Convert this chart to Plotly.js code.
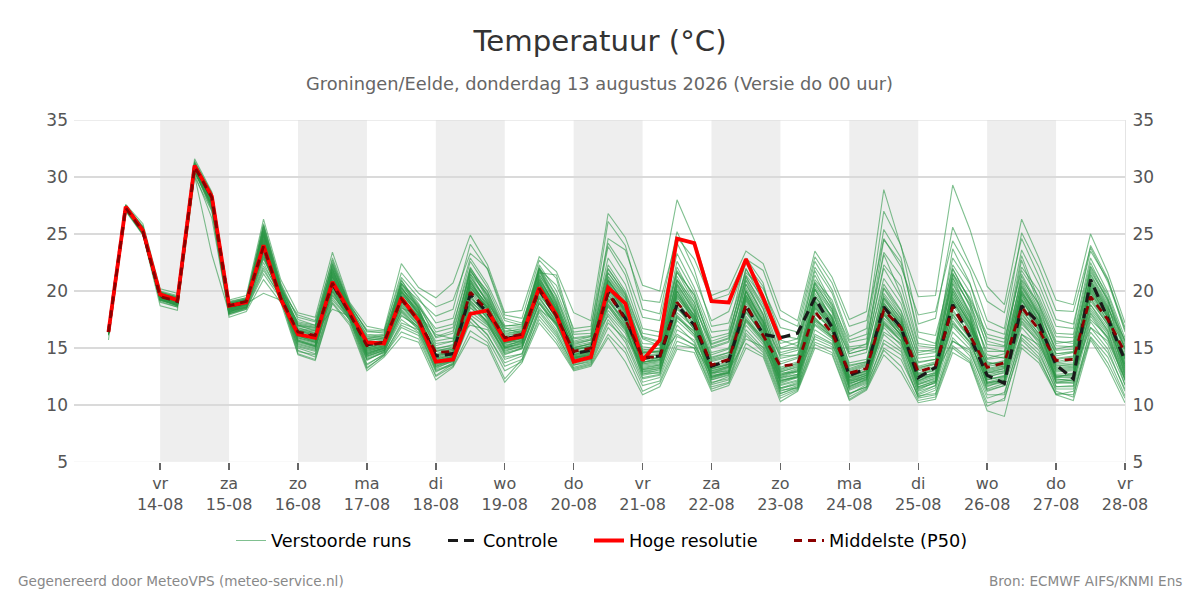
<!DOCTYPE html>
<html><head><meta charset="utf-8">
<script src="https://cdn.plot.ly/plotly-3.0.1.min.js"></script>
<style>html,body{margin:0;padding:0;background:#fff}#c{width:1200px;height:600px}</style>
</head><body><div id="c"></div>
<script>
const dayNames=["vr","za","zo","ma","di","wo","do","vr","za","zo","ma","di","wo","do","vr"];
const dayDates=["14-08","15-08","16-08","17-08","18-08","19-08","20-08","21-08","22-08","23-08","24-08","25-08","26-08","27-08","28-08"];
const tickIso=["2026-08-14","2026-08-15","2026-08-16","2026-08-17","2026-08-18","2026-08-19","2026-08-20","2026-08-21","2026-08-22","2026-08-23","2026-08-24","2026-08-25","2026-08-26","2026-08-27","2026-08-28"];
const bandStarts=["2026-08-14","2026-08-16","2026-08-18","2026-08-20","2026-08-22","2026-08-24","2026-08-26"];
const bandEnds=["2026-08-15","2026-08-17","2026-08-19","2026-08-21","2026-08-23","2026-08-25","2026-08-27"];
const hres=[16.4,27.4,25.3,19.7,19.2,31,28.3,18.7,19,24,19.3,16.2,15.9,20.8,18.2,15.5,15.4,19.4,17.4,13.8,14,18,18.3,15.7,16,20.3,17.9,13.8,14.2,20.3,18.9,13.9,15.7,24.6,24.2,19.1,19,22.8,19.4,15.7];
const control=[16.4,27.4,25.3,19.6,19.1,31,28.2,18.7,19,23.9,19.3,16.3,16,20.6,18.1,15.3,15.5,19.3,17.4,14.3,14.5,19.7,18.1,15.8,16.1,20.1,17.8,14.5,14.8,19.9,17.6,14.1,14.3,18.8,17,13.4,13.9,18.7,16.2,15.9,16.3,19.4,16.8,12.6,13.2,18.6,16.8,12.4,13.3,18.8,16,12.6,11.9,18.7,17.2,13.5,12.3,21,17.6,13.9];
const p50=[16.4,27.3,25.2,19.5,19.1,30.9,28.2,18.7,19.1,23.9,19.4,16.4,16.1,20.7,18,15.2,15.5,19.3,17.4,14.6,14.7,19.9,18.3,15.9,16.2,20.2,17.8,14.7,15,19.8,17.5,14.2,14.2,19,17.2,13.5,14,18.8,16.1,13.4,13.6,18.2,16.3,12.8,13.2,18.3,16.8,12.9,13.4,18.6,16.1,13.3,13.7,18.6,16.6,13.9,14,19.5,17.5,14.6];
const m01=[16.6,27.6,25.9,20.2,19.8,31.6,28.7,19.2,19.6,26.3,21,18.1,17.7,23.4,19,16.9,16.6,22.4,20.3,19.4,20.7,24.9,22.3,18.1,18.3,23,21.7,18.1,17.4,26.8,24.7,20.5,20,28,24.5,19.6,20.2,23.5,22.4,18.3,17.4,23.5,21.2,17.5,18.2,28.9,23.9,19.5,19.6,29.3,25.4,20.4,18.8,26.3,22.9,19.2,18.8,25,21.6,17.2];
const m02=[15.7,27,24.9,18.7,18.3,30,27,17.7,18.2,21,19,14.4,13.9,18.9,17,13,14.2,16,15.5,12.2,13.3,16,15.2,12,13.7,17.2,15.4,13,13.4,15.9,13.8,10.9,11.6,14.9,14.6,11.2,11.7,15,14.2,10.3,11.2,15,14.4,10.4,11.3,14.4,12.9,10.2,10.5,14.6,13.7,9.5,9,15,13.7,10.9,10.4,15.7,13.3,10.2];
const m03=[16.3,27.1,25,19,18.6,30.1,23.2,18.1,18.9,19.8,19.2,16.6,16.4,18.4,17.8,15.8,16.1,18.5,17.9,16.2,15.8,17,16.6,14,14.5,18.4,17.2,15,15.4,17.8,15.9,13.7,14.2,16.2,15.2,12.8,13,15.8,15.1,12.1,12.6,16,15.3,12.2,12.6,16.4,15.4,12.1,12.8,15.6,14.6,11.2,11.7,16.2,15.3,12.4,12.8,16.8,15.6,12.3];
const m04=[16.5,27.4,25.6,19.9,19.5,31.2,28.4,18.9,19.2,25.6,20.4,17.7,17.3,22.1,18.8,16.5,16.3,20.6,19.2,17.8,18.4,24.1,21.9,17.6,17.2,21.6,21.4,16.4,16.6,26.1,24,18.4,18,25.2,21.9,16.9,17.2,21.6,20.2,16.8,16.4,22.6,20.1,16,16.7,27,24,17.1,17.6,25.6,22.3,19.1,18.1,24.6,21.3,17.5,17.1,23.5,21,16.8];
const m05=[16.2,27.2,25.1,19.2,18.8,30.6,27.4,18.2,18.6,22.2,19.8,15,14.5,19.6,17.8,13.6,14.4,17.2,16.6,13,13.5,17.6,16.2,13.4,14,18.3,16.4,13.3,13.7,17.2,15.8,12.3,12.6,16.6,15.7,12,12.3,16.6,15,11.3,11.5,16.2,15.4,11,11.6,15.7,14.7,10.6,10.9,15.6,14.8,10.9,10.9,16.2,14.8,11.2,10.7,16.8,14.9,11.2];
const m06=[16.4,27.3,25.3,19.4,19,30.8,28,18.5,18.9,24.6,19.6,16.9,16.6,21.8,18.4,15.7,15.8,20.3,18.5,15.2,15.6,21.9,19.3,16.7,16.8,21.9,18.9,15.4,15.7,21.6,19.4,15.8,15.2,22.1,19.3,15.6,16.1,22,19,15.4,15.8,21.4,18.6,14.7,15.4,23.2,19.7,14.8,14.7,23.7,20.7,15.6,15.2,23.1,19.2,15.6,15.4,22.2,19.7,15.5];
const m07=[16.3,27.2,25,19.3,18.9,30.4,27.6,18,18.5,22.8,19.7,15.4,15,20,17.6,14,14.6,17.8,16.9,13.4,14,18.8,17.2,14.8,15.1,19.1,17.1,13.9,14.3,18.6,16.7,12.9,13,17.4,16,12.4,12.9,17.3,15.5,11.7,12.1,17,15.8,11.6,12.2,16.8,15.2,11.3,12,16.9,15.2,11.6,12.2,17.3,15.4,12,11.9,17.8,15.8,12.2];
const m08=[16.5,27.5,25.5,19.8,19.4,31.1,28.5,19,19.3,25.2,20.2,17.2,16.9,22.4,18.6,16.2,16.1,20.9,18.9,16.4,16.8,22.6,20.3,17,16.9,22.3,20,16.2,16.3,23.9,21.4,16.7,16.4,23.3,20.3,16.4,16.6,22.9,20.7,14.9,15.1,21,19.2,15.1,15.3,24.5,22.5,16.4,16.1,21.9,19.2,15.9,15.5,22.1,20,16.3,16.2,22.9,19.9,15.9];
const m09=[16.1,27.1,25,19.1,18.6,30.5,27.2,18,18.4,21.8,19.5,14.8,14.2,19.2,17.5,13.3,14.3,16.8,16.1,12.6,13.6,17.3,15.8,13,13.8,17.8,16,13.2,13.6,16.8,15,11.7,12.1,15.6,15,11.6,12,16.1,14.6,10.8,11.4,15.5,14.9,10.7,11.5,15,14,10.8,11,15.2,14,10.2,10.4,15.7,14.2,10.9,11.2,16,14.2,10.8];
const m10=[16.4,27.4,25.4,19.6,19.2,31,28.1,18.6,19,24.3,19.4,16.6,16.2,21.2,18.2,15.1,15.4,19.8,18,14.2,14.8,20.8,18.7,15.6,16,20.8,18.2,14.6,15,20.8,18.3,14.9,14.6,20.6,18.3,14.4,14.9,20,17.2,13.1,13.7,19.5,17.8,13.7,14,19.4,17.6,13.4,13.8,20,17.4,13.8,13.3,19.8,17.9,14.3,14.6,20.5,18.1,14.2];
const m11=[16.3,27.3,25.2,19.5,19.1,30.9,27.8,18.4,18.8,23.2,19.3,15.8,15.4,20.3,17.9,14.6,15,18.6,17.1,13.9,14.3,19.1,17.7,15.2,15.6,19.4,17.4,14.1,14.5,19.4,17.2,13.4,13.6,18.1,16.8,13,13.4,18.2,16.2,12.8,12.9,17.9,16.7,12.3,12.8,17.6,16.2,12.4,12.6,17.9,15.9,12.8,13,17.9,16.3,13.1,13.2,18.8,16.8,13.6];
const m12=[16.5,27.5,25.6,20,19.6,31.3,28.5,19.1,19.4,25.9,20.7,17.5,17,22.9,18.9,16.4,16.4,21.6,19.8,18.6,19.2,23.3,22,17.9,17.6,22.7,21.1,15.8,16,24.6,23.6,19.2,19,24.7,22.8,19.2,19.7,22.8,21.8,17.6,16.9,23,20.7,16.9,17.4,24.6,22.1,17.9,18.2,24.4,21.8,17.4,16.7,25.1,22.1,18.3,18.2,23.8,20.8,16.6];
const m13=[16.2,27.2,25,19.3,18.7,30.3,26.4,17.9,18.4,21.5,19.3,14.5,14,19,17.2,13.2,14.4,16.4,15.8,12.5,13.4,16.5,15.5,12.3,14,17.5,15.7,13.1,13.5,16.2,14.6,11.2,11.9,15.2,15,11.4,11.9,15.4,14.4,10.6,11.3,15.3,14.6,10.5,11.4,14.8,13.4,10.4,10.7,15,13.8,9.9,10.6,15.3,14,11,10.9,15.9,13.7,10.6];
const m14=[16.4,27.3,25.3,19.6,19.1,30.9,28,18.8,19.1,24.8,19.8,17,16.7,21.5,18.3,15.9,16,20,18.2,15.6,15.9,21,19.1,16.3,16.5,21.2,18.5,15,15.4,21,18.8,15.1,14.9,21,19,15,15.5,21,18.4,14.4,14.8,20.4,18.2,14.2,14.6,21.1,18.9,14.1,14.3,21.4,18.7,14.4,14.1,21.3,18.4,14.8,14.9,21.4,18.7,14.9];
const m15=[16.3,27.2,25.1,19.4,18.9,30.7,27.7,18.3,18.7,23.5,19.1,15.6,15.2,20.4,17.7,14.4,14.9,18.2,16.8,13.7,14.2,18.5,17.4,14.5,14.9,18.9,17,14.2,14.6,18.9,16.8,13,13.2,17.9,16.4,12.7,13.1,17.6,15.6,12.4,12.7,17.6,16.2,12.1,12.4,17.2,15.9,11.9,12.3,17.4,15.4,12.2,12.5,17.6,15.9,12.6,12.6,18.3,16.4,13];
const m16=[16.4,27.4,25.4,19.7,19.3,31.1,28.3,18.8,19.2,24.4,19.9,16.7,16.5,20.9,18.1,15.5,15.7,19.7,18.1,15,15.2,20.3,18.5,16.1,16.4,20.6,18.3,15.1,15.3,20.4,18.1,14.6,14.7,20,17.8,14.2,14.6,19.6,17.4,14.3,14.4,19.1,17.1,13.2,13.7,20.2,17.9,13.8,14,19.2,17,14.1,14.5,20,17.4,14.5,14.7,20.2,17.9,15.1];
const m17=[16.6,27.5,25.7,19.9,19.5,31.4,28.6,19,19.4,25.4,20.1,17.9,17.4,22.7,18.7,16.6,16.5,21.2,19.4,17.2,17.6,22.9,20.6,17.4,17,21.9,20.5,16.7,16.9,24.2,21.9,17.7,17.4,24.2,21.2,17.4,18.2,22.4,20.4,16.1,15.8,22.1,19.8,15.7,16.2,25.4,22.9,15.9,15.4,22.9,20.6,16.7,16.2,23.6,20.6,16.9,16.7,24,21.1,16.4];
const m18=[16.2,27.1,25,19.2,18.8,30.5,27.5,18.1,18.6,22.5,19.4,15.2,14.8,19.9,17.4,13.9,14.7,17.5,16.4,13.2,13.9,17.9,16.8,14.2,14.5,18.6,16.6,13.6,14,18,16.3,12.6,12.9,17,15.5,12.2,12.6,17,15.3,11.5,11.8,16.6,15.6,11.4,12,16.2,14.9,11,11.7,16.4,14.9,11.4,11.9,16.8,15.1,11.6,11.6,17.3,15.3,11.8];
const m19=[16.5,27.4,25.5,19.7,19.3,31,28.4,18.9,19.3,24.9,20,16.8,16.3,21.6,18.5,15.6,15.9,20.5,18.7,15.9,16.3,21.5,19.7,16.5,16.6,21.4,19.3,15.6,16,22.3,20,16,15.6,22.6,19.9,15.9,16.3,21.4,19.4,15,15.5,20.7,18.4,14.5,14.9,22.3,20.4,15.2,15,22.3,19.9,15,14.7,22.7,18.8,15.2,15.1,21.9,19.1,15.3];
const m20=[16.3,27.3,25.2,19.4,18.9,30.8,27.9,18.5,18.9,23.7,19.2,16,15.7,20.5,18,14.9,15.2,18.9,17.3,14.1,14.5,19.4,17.9,15.5,15.8,19.8,17.6,14.4,14.8,19.1,17.4,13.6,13.8,18.4,17,13.2,13.6,18.5,16.5,12.6,13.1,18.7,16.6,12.5,13,18,16.4,12.6,13.1,18.2,16.3,12.9,13.2,18.2,16.7,13.3,13.4,19.1,17.1,13.8];
const m21=[16.4,27.3,25.3,19.6,19.2,31,28.2,18.7,19.1,23.1,19.5,16.2,15.9,20.2,17.9,15,15.3,19,17.5,14.8,15,19.5,17.8,15.4,15.9,19.6,17.9,14.9,15.1,19.6,17.6,14.4,14.4,19.4,17.6,13.8,14.2,19.4,16.8,13.6,14.1,18.5,17,13,13.5,18.9,17.3,13.1,13.6,19,16.7,13.5,13.9,19.1,17,14,14.2,19.8,17.7,14.1];
const m22=[16.3,27.2,25.1,19.3,18.8,30.6,27.3,18.2,18.6,22.9,19.6,15.5,15.1,19.7,17.6,14.3,14.8,17.9,16.7,13.6,13.8,18.2,17,14.7,15.2,18.9,16.9,13.8,14.1,18.3,16.5,12.8,12.8,17.7,16.2,12.6,12.8,17.8,15.8,12.2,12.4,17.3,15.9,11.9,12.3,17.1,15.7,11.6,12.1,17.2,15.6,12,12.1,17.1,15.6,12.3,12.1,17.5,16,12.6];
const m23=[16.4,27.4,25.4,19.8,19.3,31.1,28.3,18.8,19.2,24.2,19.7,17.3,17,21.3,18.3,16,16.2,19.9,18.3,15.4,15.6,20.5,18.9,16.9,17.1,21,18.7,15.3,15.7,20.9,18.9,15.4,15.3,20.9,18.6,15.3,15.8,20.6,18,14.1,14.4,20.1,17.6,14.5,14.9,20.6,18.3,14.4,14.6,20.7,18.1,14.7,14.7,20.5,18.1,14.9,15.2,21,18.5,15.7];
const m24=[16.4,27.3,25.2,19.5,19,30.9,28.1,18.6,19,23.4,19.2,16,15.6,20.6,18.1,14.8,15.2,18.8,17.2,14,14.4,19.2,17.6,15,15.4,19.9,17.6,14.3,14.7,19.2,17,13.8,13.9,18.6,16.6,13.2,13.5,18.1,16.1,12.9,13.3,17.7,16,12.7,13.2,17.9,16.1,12.7,13,18.4,16.1,13.1,13.4,18.4,16.2,13.6,13.7,18.5,16.6,13.4];
const m25=[16.5,27.4,25.5,19.7,19.4,31.2,28.4,18.9,19.3,25.1,20.3,17.1,16.8,21.9,18.6,16.1,15.9,20.2,18.6,16.7,17.1,22,19.9,16.8,16.2,22.1,19.6,15.9,16.1,22.9,20.6,16.3,16,21.8,19.6,15.4,15.9,21.9,19.7,15.7,15.2,21.8,18.9,15.5,15.8,23.4,21.3,15.4,15.2,21.5,19.4,16.2,15.8,21.8,19.5,16,15.9,22.5,19.4,15];
const m26=[16.2,27.2,25,19.2,18.7,30.5,27.1,18,18.5,22,19.4,14.7,14.4,19.4,17.5,13.5,14.5,17,16.3,12.9,13.7,17.7,16.1,13.7,14.3,18.1,16.2,13.5,13.9,17.5,15.5,12,12.4,16,15.3,11.8,12.2,16.3,14.8,11,11.6,15.8,15.1,10.9,11.8,15.4,14.4,10.7,11.3,15.9,14.3,10.6,11.1,15.9,14.5,11.4,11.4,16.4,14.6,11.4];
const m27=[16.4,27.4,25.3,19.6,19.2,31,28.3,18.7,19.1,24.5,19.5,16.5,16.3,21,18.2,15.4,15.6,19.6,17.7,14.5,14.9,20.1,18.6,15.8,16.3,20.4,18.1,14.8,15.2,20.1,17.9,14.7,14.5,19.6,17.9,14,14.4,19.2,16.9,13.8,14.2,19.1,17.4,13.4,13.8,18.6,17.2,13.2,13.7,19.4,17.2,13.7,13.6,19.3,17.2,14.1,14.3,19.6,17.4,14.4];
const m28=[16.3,27.3,25.2,19.5,19,30.8,27.9,18.4,18.8,23.3,19,15.9,15.5,20,17.7,14.7,15.1,18.4,17,14.4,14.6,18.9,17.3,15.1,15.7,19.3,17.3,14.4,14.9,18.8,16.9,13.2,13.5,17.6,16.5,12.9,13.3,17.5,15.9,12.5,13,17.4,16.4,12.4,12.7,17.4,16,12.2,12.7,17.7,15.8,12.5,12.8,17.7,16.1,12.9,13,18.1,16.2,12.8];
const m29=[16.5,27.5,25.6,19.9,19.4,31.2,28.5,18.9,19.3,25,20,17,16.8,22.2,18.5,15.8,15.8,20.7,18.8,16,16.5,21.7,20,16.4,16.7,22,19.5,15.5,15.8,21.9,19.8,15.9,15.5,21.6,19.7,15.1,15.6,21.2,18.8,14.6,15,20.8,18.8,14.9,15.1,22,19.4,14.6,14.9,21.1,18.9,15.3,15.1,21,18.9,15.4,15.6,21.7,19.3,15.6];
const m30=[16.3,27.2,25.1,19.4,18.9,30.7,27.6,18.3,18.8,23,19.6,15.7,15.3,20.1,17.8,14.5,15,18.1,16.6,13.8,14.2,18.6,17.1,14.4,15,19,17.1,14,14.4,18.7,16.6,13.1,13.3,17.8,16.2,12.5,12.9,17.4,15.7,12,12.5,17.1,16,11.8,12.5,17,15.6,11.8,12.4,17.1,15.5,11.9,12.3,17.4,15.7,12.5,12.4,18,15.9,12.4];
const m31=[16.4,27.4,25.5,19.6,19,30.8,28.3,18.4,18.9,25.3,20.1,16.1,15.5,21.9,18.4,14.5,15,20.1,18.1,13.6,14.2,21.3,19,15.5,15.9,21.5,18.7,14.1,14.6,21.2,19.1,13.6,13.9,20.7,18.2,12.8,13.3,20.3,17.6,12.1,12.5,19.8,17.7,11.9,12.4,19.2,17.4,12,12.5,20.9,18.2,12.4,12.9,20.4,17.9,12.7,12.8,20.9,18.4,13.1];
const m32=[16.3,27.3,25.3,19.5,19.1,30.9,27.9,18.5,18.8,24.2,19.7,15.9,15.5,21.2,18.1,14.7,15.1,19.2,17.6,13.8,14.1,20.1,18.1,15.3,15.5,20.6,18.2,14.2,14.3,20.4,18.5,13.3,13.5,19.8,17.5,12.5,13,19.5,16.7,11.5,12,18.8,16.8,11.7,12.2,18.4,16.4,11.6,12.1,19.5,17.1,12,12.4,19.2,16.9,12.2,12.3,20.1,17.8,12.7];
const m33=[16.5,27.4,25.4,19.4,18.8,30.6,28.1,18.2,18.7,25.7,20.5,16.6,16,22.3,18.7,15,15.4,20.7,18.4,14.1,14.7,21.8,19.5,15.8,16.1,21.8,19,14.5,14.8,21.6,19.6,14,14.2,21.3,18.7,13.2,13.7,20.9,17.9,12.6,13,20.2,18.1,12.2,12.8,19.8,17.8,12.3,12.9,21.6,18.6,12.8,13.2,20.9,18.2,13.2,13.3,21.5,18.9,13.6];
const m34=[16.3,27.2,25.2,19.3,18.7,30.7,27.8,18.3,18.6,23.9,19.9,15.3,14.9,20.9,18,14.2,14.8,18.7,17,13.3,13.8,19.7,17.5,14.9,15.2,20,17.5,13.8,14,19.9,17.8,12.7,13.1,19.2,17.1,12.2,12.7,18.9,16.3,11.2,11.7,18.2,16.5,11.3,11.9,17.9,16.1,11.2,11.7,18.8,16.5,11.7,12,18.9,16.5,11.9,12,19.4,17.2,12.1];
const m35=[16.4,27.4,25.4,19.5,19,31,28.2,18.6,19,24.7,20,16.3,15.8,21.5,18.3,14.9,15.2,19.5,17.8,14.4,14.8,20.7,18.8,16,16.4,21.1,18.5,14.9,15.2,20.7,18.4,14.5,14.7,20.2,17.9,13.9,14.3,19.9,17.3,12.9,13.4,19.3,17.2,12.6,13,18.8,17,12.7,13.2,20.3,17.6,13.2,13.5,19.9,17.4,13.4,13.6,20.6,18,14];
const m36=[16.3,27.3,25.2,19.6,19.1,30.9,28,18.4,18.8,25.5,20.3,15.7,15.2,22,18.2,14.4,14.9,20.4,17.9,13.5,14,21.5,18.9,15.1,15.4,21.3,18.4,14,14.4,20.9,18.7,13.1,13.4,20.4,17.7,12.3,12.8,20,17.1,11.8,12.2,19.5,17.3,11.5,12.1,19,16.9,11.4,12,20.2,17.7,11.9,12.2,20.1,17.6,12.1,12.1,20.7,18.3,12.9];
const m37=[16.4,27.3,25.3,19.4,18.9,30.8,28.1,18.5,18.9,24,19.5,16.4,16,20.8,18.1,15.2,15.4,19.3,17.5,14.7,14.9,20.4,18.4,15.7,16,20.5,18,14.6,14.9,20.3,18,14.3,14.4,19.7,17.4,13.6,14,19.3,16.6,13,13.5,18.9,16.9,12.9,13.4,18.5,16.7,13,13.4,19.8,17,13.4,13.6,19.5,17.1,13.7,13.9,20,17.6,14.3];
const m38=[16.5,27.5,25.5,19.8,19.3,31.1,28.4,18.8,19.2,25.8,20.6,17,16.5,22.5,18.8,15.4,15.6,21,18.5,14.9,15.3,22.1,19.6,16.2,16.5,22,19.1,15.2,15.5,22,19.7,14.8,15,21.7,19,14.6,15,21.3,18.5,13.3,13.8,20.6,18.4,13.5,13.8,20.3,18.2,13.7,14,22,19.1,14,14.2,21.5,18.7,14.5,14.6,22.1,19.2,14.8];
const m39=[16.2,27.2,25.1,19.3,18.8,30.6,27.5,18.1,18.5,23.6,19.3,15.1,14.7,20.7,17.8,14,14.6,18.3,16.8,13.1,13.6,19,17.2,14.6,15,19.5,17.2,13.5,13.8,19.3,17.1,12.4,12.7,18.7,16.6,11.9,12.5,18.4,15.9,11,11.5,17.5,16,11,11.6,17.3,15.6,10.9,11.5,18,15.9,11.3,11.7,18.1,15.9,11.6,11.7,18.8,16.5,11.7];
const m40=[16.4,27.4,25.4,19.5,19.1,31,28.2,18.5,18.9,24.9,19.9,16.2,15.7,21.3,18.2,14.8,15.1,19.9,17.8,14,14.4,21,18.5,15.4,15.7,21,18.3,14.4,14.7,20.6,18.2,13.8,14,20,17.6,13.1,13.6,19.7,17,12.4,12.9,19.1,17.1,12.4,12.9,18.7,16.7,12.5,12.8,20,17.3,12.6,13,19.7,17.3,13,13.1,20.4,17.9,13.5];
const m41=[16.4,27.3,25.3,19.5,19,30.9,28.1,18.6,19,24.1,19.6,16.2,15.8,21,18.1,15,15.3,19.6,17.6,14.3,14.6,20.6,18.3,15.6,15.8,20.7,18,14.3,14.6,20.2,18.3,14,14.1,19.5,17.3,13.4,13.8,19.1,16.4,12.7,13.2,18.6,16.6,12.5,13,18.2,16.5,12.8,13.3,19.2,16.8,13,13.3,19.3,16.8,13.5,13.5,19.9,17.3,14];
const m42=[16.3,27.2,25.1,19.2,18.7,30.5,27.6,18.2,18.6,25,20.1,15.6,15.1,21.7,18,14.1,14.7,19.4,17.4,13.4,13.9,20.9,18.2,15,15.3,20.9,17.7,13.7,14.2,20.5,18.1,12.9,13.2,20,17.3,12.4,12.8,19.6,16.8,11.4,11.9,19,16.9,11.6,12.3,18.6,16.3,11.5,11.9,19.7,17.2,11.8,12.1,19.7,17,12,12.2,20.3,17.7,12.5];
const m43=[16.5,27.4,25.5,19.7,19.2,31.1,28.4,18.7,19.1,25.2,20.2,16.5,16.1,21.7,18.6,15.3,15.6,20.3,18.3,14.7,15.1,21.2,19.2,15.9,16.2,21.7,18.8,14.8,15.1,21.3,19.3,14.6,14.8,21,18.4,14.1,14.6,20.6,17.8,13.2,13.6,20.2,17.6,13.1,13.6,19.6,17.5,13.3,13.6,21.2,17.9,13.6,13.8,20.7,17.9,13.8,14.1,21.2,18.6,14.6];
const m44=[16.4,27.3,25.2,19.4,18.9,30.8,27.9,18.3,18.7,24.4,19.6,15.6,15.2,20.7,17.9,14.6,15,19.1,17.2,13.7,14.3,19.9,17.9,15,15.5,20.1,17.6,14.1,14.5,19.7,17.7,13.5,13.7,19.1,17,12.8,13.2,18.6,16.2,12.3,12.7,18.4,16.4,12,12.6,18.1,16.1,12.1,12.6,19.1,16.6,12.2,12.6,18.7,16.6,12.5,12.7,19.3,17,13.2];
const m45=[16.3,27.3,25.3,19.6,19.2,30.9,28,18.5,18.9,24.6,20,16.1,15.6,21.4,18.3,14.3,14.8,20,18,13.9,14.3,20.3,18.6,15.5,15.6,20.8,18.4,14.2,14.4,21,18.9,13.7,14,20.5,18.1,13,13.4,20.1,17.4,11.9,12.4,19.6,17.5,12.1,12.6,19.4,17.1,11.8,12.2,20.6,17.8,12.3,12.5,20.3,17.8,12.4,12.5,20.8,18.2,13.3];
const memberRows=[m01,m02,m03,m04,m05,m06,m07,m08,m09,m10,m11,m12,m13,m14,m15,m16,m17,m18,m19,m20,m21,m22,m23,m24,m25,m26,m27,m28,m29,m30,m31,m32,m33,m34,m35,m36,m37,m38,m39,m40,m41,m42,m43,m44,m45];
const startMs=Date.UTC(2026,7,13,6);
const iso=i=>new Date(startMs+i*6*3600*1000).toISOString().slice(0,16).replace('T',' ');
const xFor=a=>a.map((_,i)=>iso(i));
const traces=[];
memberRows.forEach((r,k)=>traces.push({x:xFor(r),y:r,type:'scatter',mode:'lines',name:'Verstoorde runs',legend:'legend',showlegend:k===0,hoverinfo:'skip',line:{color:'rgba(44,150,70,0.6)',width:1.1}}));
traces.push({x:xFor(control),y:control,type:'scatter',mode:'lines',name:'Controle',legend:'legend2',line:{color:'#1a1a1a',width:3.2,dash:'10px,6px'}});
traces.push({x:xFor(hres),y:hres,type:'scatter',mode:'lines',name:'Hoge resolutie',legend:'legend3',line:{color:'#ff0000',width:3.8}});
traces.push({x:xFor(p50),y:p50,type:'scatter',mode:'lines',name:'Middelste (P50)',legend:'legend4',yaxis:'y2',line:{color:'#8b0000',width:2.8,dash:'8px,6px'}});
const F='"DejaVu Sans",sans-serif';
const tf={family:F,size:17,color:'#555'};
const legendAt=px=>({orientation:'h',x:(px-74)/1051,xanchor:'left',y:(462-541)/342,yanchor:'middle',font:{family:F,size:17.7,color:'#000'},bgcolor:'rgba(0,0,0,0)',itemwidth:30});
const layout={
 width:1200,height:600,paper_bgcolor:'#fff',plot_bgcolor:'#fff',
 margin:{l:74,r:75,t:120,b:138,pad:0},
 title:{text:'Temperatuur (°C)',x:0.5,xanchor:'center',y:0.932,yanchor:'middle',font:{family:F,size:29.2,color:'#333'}},
 xaxis:{type:'date',range:['2026-08-12 18:00','2026-08-28 00:00'],tickmode:'array',tickvals:tickIso,ticktext:dayNames.map((d,i)=>d+'<br>'+dayDates[i]),showgrid:false,zeroline:false,showline:false,ticks:'outside',ticklen:7,tickwidth:1.5,tickcolor:'#666',tickfont:{family:F,size:16,color:'#555'},automargin:false},
 yaxis:{range:[5,35],tickvals:[5,10,15,20,25,30,35],gridcolor:'#dadada',gridwidth:1.2,zeroline:false,showline:false,ticks:'',ticklabelstandoff:5,tickfont:tf,automargin:false},
 yaxis2:{range:[5,35],overlaying:'y',side:'right',tickvals:[5,10,15,20,25,30,35],showgrid:false,zeroline:false,showline:true,linecolor:'#e4e4e4',ticks:'',ticklabelstandoff:3,tickfont:tf,automargin:false},
 legend:legendAt(231),legend2:legendAt(443),legend3:legendAt(589),legend4:legendAt(789),
 shapes:bandStarts.map((s,i)=>({type:'rect',xref:'x',yref:'paper',x0:s,x1:bandEnds[i],y0:0,y1:1,fillcolor:'#eeeeee',line:{width:0},layer:'below'})).concat([
  {type:'line',xref:'paper',yref:'y',x0:0,x1:1,y0:35,y1:35,line:{color:'#dadada',width:1.2},layer:'below'},
  {type:'line',xref:'paper',yref:'y',x0:0,x1:1,y0:5,y1:5,line:{color:'#f2f2f2',width:1},layer:'below'}]),
 annotations:[
  {xref:'paper',yref:'paper',x:0.5,xanchor:'center',y:(462-84)/342,yanchor:'middle',showarrow:false,text:'Groningen/Eelde, donderdag 13 augustus 2026 (Versie do 00 uur)',font:{family:F,size:17.8,color:'#666'}},
  {xref:'paper',yref:'paper',x:(16-74)/1051,xanchor:'left',y:(462-581)/342,yanchor:'middle',showarrow:false,text:'Gegenereerd door MeteoVPS (meteo-service.nl)',font:{family:F,size:13.6,color:'#888'}},
  {xref:'paper',yref:'paper',x:(1184-74)/1051,xanchor:'right',y:(462-581)/342,yanchor:'middle',showarrow:false,text:'Bron: ECMWF AIFS/KNMI Ens',font:{family:F,size:13.6,color:'#888'}}
 ]
};
Plotly.newPlot('c',traces,layout,{displayModeBar:false,staticPlot:true});
</script></body></html>
